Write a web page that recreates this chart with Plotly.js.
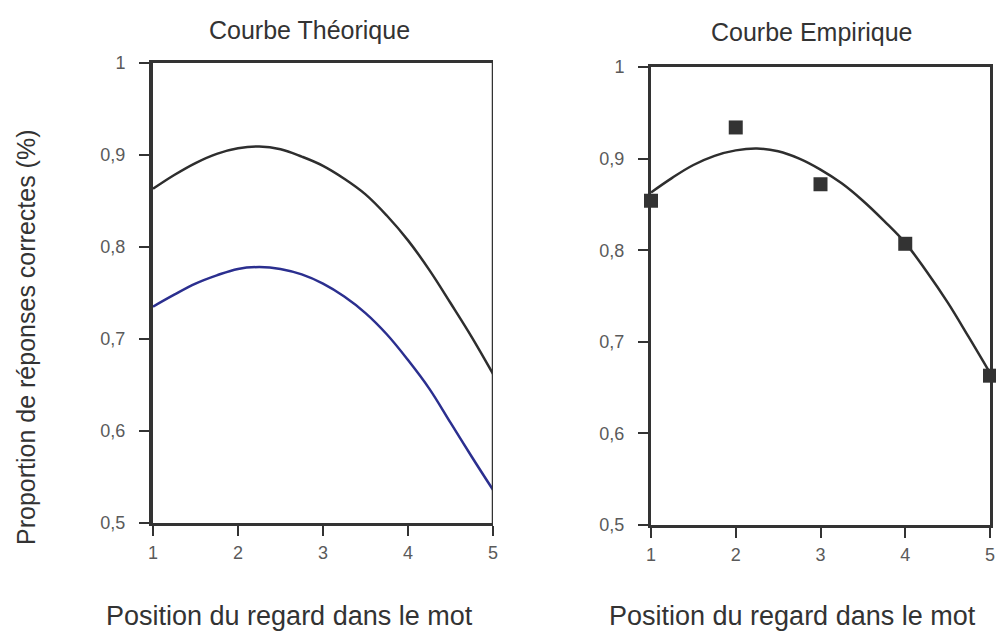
<!DOCTYPE html>
<html>
<head>
<meta charset="utf-8">
<script src="https://cdn.plot.ly/plotly-3.0.1.min.js"></script>
<style>html,body{margin:0;padding:0;background:#fff;}#chart{width:996px;height:632px;}</style>
</head>
<body>
<div id="chart"></div>
<script>
// ---- data ----
const xPos = [1, 1.25, 1.5, 1.75, 2, 2.25, 2.5, 2.75, 3, 3.25, 3.5, 3.75, 4, 4.25, 4.5, 4.75, 5];
const theoUpper = [0.863, 0.878, 0.891, 0.901, 0.907, 0.909, 0.906, 0.898, 0.888, 0.874, 0.857, 0.834, 0.807, 0.775, 0.739, 0.702, 0.662];
const theoLower = [0.735, 0.748, 0.760, 0.769, 0.776, 0.778, 0.776, 0.770, 0.760, 0.746, 0.728, 0.705, 0.677, 0.646, 0.609, 0.572, 0.536];
const empFit = [0.863, 0.879, 0.893, 0.903, 0.909, 0.911, 0.908, 0.900, 0.888, 0.873, 0.854, 0.832, 0.808, 0.777, 0.743, 0.705, 0.666];
const empX = [1, 2, 3, 4, 5];
const empObs = [0.854, 0.934, 0.872, 0.807, 0.663];

const xTickVals = [1, 2, 3, 4, 5];
const xTickText = ['1', '2', '3', '4', '5'];
const yTickVals = [0.5, 0.6, 0.7, 0.8, 0.9, 1];
const yTickText = ['0,5', '0,6', '0,7', '0,8', '0,9', '1'];

const titleLeft = 'Courbe Théorique';
const titleRight = 'Courbe Empirique';
const xTitle = 'Position du regard dans le mot';
const yTitle = 'Proportion de réponses correctes (%)';

const FONT = 'Liberation Sans, Arial, sans-serif';
const AX = '#333333';

const traces = [
  {x: xPos, y: theoUpper, xaxis: 'x', yaxis: 'y', mode: 'lines',
   line: {color: '#2e2e2e', width: 2.5, shape: 'spline', smoothing: 1.1}, cliponaxis: false, hoverinfo: 'skip'},
  {x: xPos, y: theoLower, xaxis: 'x', yaxis: 'y', mode: 'lines',
   line: {color: '#2b2f8f', width: 2.5, shape: 'spline', smoothing: 1.1}, cliponaxis: false, hoverinfo: 'skip'},
  {x: xPos, y: empFit, xaxis: 'x2', yaxis: 'y2', mode: 'lines',
   line: {color: '#2e2e2e', width: 2.5, shape: 'spline', smoothing: 1.1}, cliponaxis: false, hoverinfo: 'skip'},
  {x: empX, y: empObs, xaxis: 'x2', yaxis: 'y2', mode: 'markers',
   marker: {symbol: 'square', size: 14, color: '#333333'}, cliponaxis: false, hoverinfo: 'skip'}
];

function xAxis(domain, anchor, lw) {
  return {domain: domain, anchor: anchor, range: [1, 5], showgrid: false, zeroline: false,
    showline: true, linecolor: AX, linewidth: lw, mirror: true,
    ticks: 'outside', ticklen: 10, tickwidth: 2, tickcolor: AX,
    tickvals: xTickVals, ticktext: xTickText, ticklabelstandoff: 2,
    tickfont: {family: FONT, size: 18, color: '#5a5a5a'}};
}
function yAxis(domain, anchor, lw, mirror) {
  return {domain: domain, anchor: anchor, range: [0.5, 1], showgrid: false, zeroline: false,
    showline: true, linecolor: AX, linewidth: lw, mirror: mirror,
    ticks: 'outside', ticklen: 10, tickwidth: 2, tickcolor: AX,
    tickvals: yTickVals, ticktext: yTickText, ticklabelstandoff: 10,
    tickfont: {family: FONT, size: 18, color: '#5a5a5a'}};
}

const layout = {
  width: 996, height: 632,
  margin: {l: 0, r: 0, t: 0, b: 0},
  paper_bgcolor: '#ffffff', plot_bgcolor: '#ffffff',
  showlegend: false,
  xaxis: xAxis([153/996, 493/996], 'y', 2.5),
  yaxis: yAxis([1 - 523/632, 1 - 62.7/632], 'x', 4, false),
  xaxis2: xAxis([651/996, 990/996], 'y2', 2.7),
  yaxis2: yAxis([1 - 525/632, 1 - 67/632], 'x2', 3, true),
  shapes: [
    {type: 'line', xref: 'x', yref: 'y domain', x0: 5, x1: 5, y0: 0, y1: 1,
     line: {color: AX, width: 2.5}}
  ],
  annotations: [
    {text: titleLeft, xref: 'paper', yref: 'paper', x: 309/996, y: 1 - 30/632,
     xanchor: 'center', yanchor: 'middle', showarrow: false,
     font: {family: FONT, size: 25, color: '#333333'}},
    {text: titleRight, xref: 'paper', yref: 'paper', x: 812/996, y: 1 - 32/632,
     xanchor: 'center', yanchor: 'middle', showarrow: false,
     font: {family: FONT, size: 25, color: '#333333'}},
    {text: xTitle, xref: 'paper', yref: 'paper', x: 289/996, y: 1 - 616/632,
     xanchor: 'center', yanchor: 'middle', showarrow: false,
     font: {family: FONT, size: 27, color: '#333333'}},
    {text: xTitle, xref: 'paper', yref: 'paper', x: 792/996, y: 1 - 616/632,
     xanchor: 'center', yanchor: 'middle', showarrow: false,
     font: {family: FONT, size: 27, color: '#333333'}},
    {text: yTitle, xref: 'paper', yref: 'paper', x: 26/996, y: 1 - 338/632,
     xanchor: 'center', yanchor: 'middle', showarrow: false, textangle: -90,
     font: {family: FONT, size: 25, color: '#333333'}}
  ]
};

Plotly.newPlot('chart', traces, layout, {staticPlot: true, displayModeBar: false});
</script>
</body>
</html>
